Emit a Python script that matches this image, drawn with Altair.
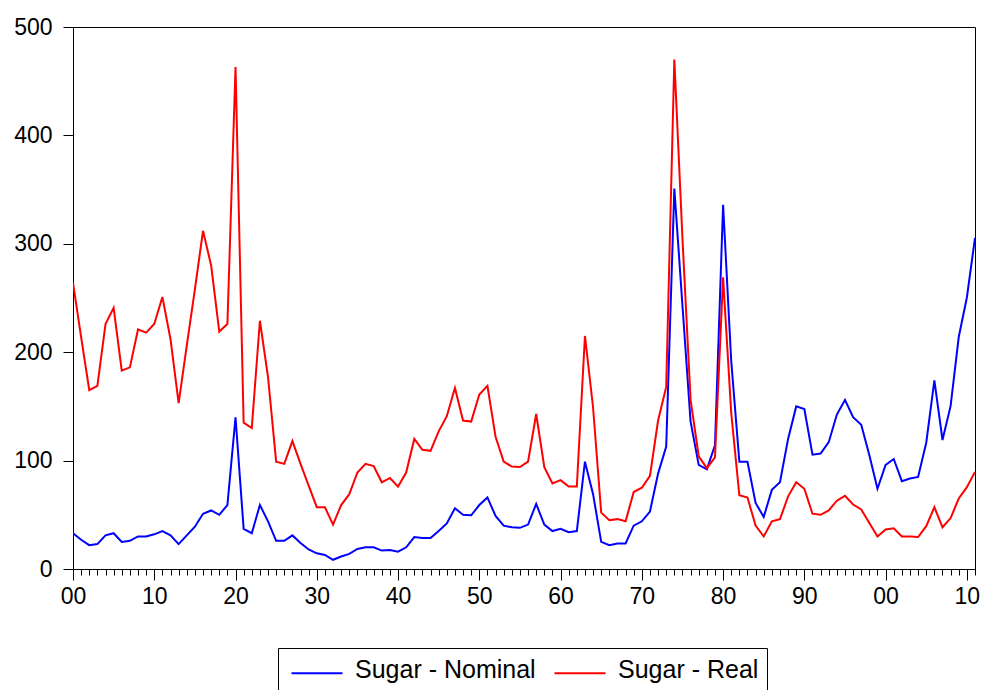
import altair as alt
import pandas as pd

# Annual sugar price indices, 1900-2011
years = list(range(1900, 2012))

nominal = [
    33, 27, 22, 23, 31, 33, 25, 26, 30, 30,
    32, 35, 31, 23, 31, 39, 51, 54, 50, 59,
    140, 37, 33, 59, 44, 26, 26, 31, 24, 18,
    14.5, 13, 8.5, 11.5, 14, 18.5, 20, 20, 17, 17.5,
    16, 20, 29.5, 28.5, 28.5, 35, 42, 56, 50, 49.5,
    59, 66, 49, 40, 38.5, 38, 41, 60, 41, 35,
    37, 34, 35, 99, 69, 25, 22, 23.5, 23.5, 40,
    44, 53, 88, 113, 351, 243, 136, 96, 92, 114,
    336, 192, 99, 99, 61, 48, 73, 80, 120, 150,
    147.5, 105.5, 106.5, 117, 142.5, 156, 140, 133, 105, 74,
    96, 101.5, 81, 83.5, 85, 116.5, 174, 119, 150.5, 214,
    250.5, 305.5,
]

real = [
    264, 214, 165, 169, 226, 241, 183, 186, 221, 218,
    226, 251, 212, 153, 206, 258, 312, 280, 219, 226,
    463, 135, 130, 229, 177, 99, 97, 118, 97, 77,
    57, 57, 41, 59, 69, 89, 97, 95, 80, 84,
    76, 89, 120, 110, 109, 127, 141, 167, 137, 136,
    161, 169, 122, 99, 94.5, 94, 99, 143, 94, 79,
    82, 76, 76, 215, 149, 52, 45, 46, 44, 71,
    75, 86, 137, 168, 470, 305, 156, 104, 93, 103,
    269, 144, 68, 66, 40, 30, 44, 46, 67, 80,
    74, 51, 50, 54, 63, 67.5, 59.5, 55, 42.5, 30,
    36.5, 37.5, 30, 30, 29.5, 39.5, 57, 38.5, 47, 65,
    75.5, 89.5,
]

series_names = ["Sugar - Nominal", "Sugar - Real"]
series_colors = ["#0000FF", "#FF0000"]
y_ticks = [0, 100, 200, 300, 400, 500]

df = pd.DataFrame({
    "year": years * 2,
    "value": nominal + real,
    "series": [series_names[0]] * len(years) + [series_names[1]] * len(years),
})

FONT = "Liberation Sans"

# two-digit decade labels, blank for the yearly minor ticks
decade_label = (
    "datum.value % 10 === 0 ? "
    "((datum.value % 100 < 10 ? '0' : '') + (datum.value % 100)) : ''"
)

chart = (
    alt.Chart(df)
    .mark_line(strokeWidth=2, clip=True)
    .encode(
        x=alt.X(
            "year:Q",
            title=None,
            scale=alt.Scale(domain=[1900, 2011], nice=False, zero=False),
            axis=alt.Axis(
                values=years,
                labelExpr=decade_label,
                labelOverlap=False,
                labelFlush=False,
                labelFont=FONT,
                labelFontSize=23,
                labelColor="black",
                labelPadding=5,
                tickColor="black",
                tickWidth=1,
                tickSize={
                    "condition": {"test": "datum.value % 10 === 0", "value": 11},
                    "value": 6,
                },
                domainColor="black",
                domainWidth=1,
                grid=False,
            ),
        ),
        y=alt.Y(
            "value:Q",
            title=None,
            scale=alt.Scale(domain=[0, 500], nice=False),
            axis=alt.Axis(
                values=y_ticks,
                labelFont=FONT,
                labelFontSize=23,
                labelColor="black",
                labelPadding=11,
                tickColor="black",
                tickWidth=1,
                tickSize=10,
                domainColor="black",
                domainWidth=1,
                grid=False,
            ),
        ),
        color=alt.Color(
            "series:N",
            scale=alt.Scale(domain=series_names, range=series_colors),
            legend=alt.Legend(
                title=None,
                orient="none",
                direction="horizontal",
                legendX=205,
                legendY=621,
                symbolType="M-2,0.25L2,0.25",
                symbolSize=650,
                symbolStrokeWidth=2,
                symbolOffset=17,
                labelOffset=24,
                labelLimit=0,
                labelFont=FONT,
                labelFontSize=25,
                labelColor="black",
                columnPadding=13,
                padding=8,
                strokeColor="black",
                fillColor="white",
            ),
        ),
    )
    .properties(
        width=902,
        height=542,
        background="white",
        autosize=alt.AutoSizeParams(type="none"),
        padding={"left": 73, "top": 27, "right": 9, "bottom": 121},
    )
    .configure_view(stroke="black", strokeWidth=1)
)

chart.save("out.html", embed_options={"renderer": "svg", "actions": False})
